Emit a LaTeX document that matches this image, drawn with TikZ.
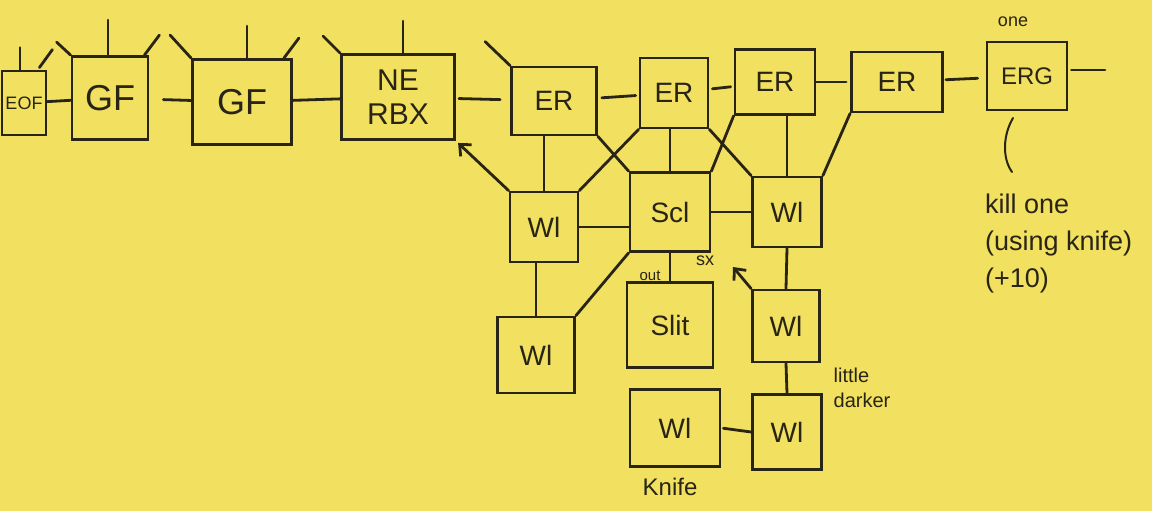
\documentclass[tikz,border=0pt]{standalone}
\usepackage{fontspec}
\setmainfont{Liberation Sans}
\usetikzlibrary{arrows.meta,calc}
\definecolor{paper}{RGB}{242,224,96}
\definecolor{ink}{RGB}{40,36,22}
\begin{document}
\begin{tikzpicture}[x=1pt,y=-1pt,
  box/.style={draw=ink,line width=2.8pt,rectangle,inner sep=0pt,text=ink,
    font=\fontsize{28}{32}\selectfont},
  wire/.style={draw=ink,line width=2.8pt,line cap=round},
  arr/.style={wire,-{Straight Barb[length=9pt,width=16pt,line width=2.8pt]}},
  note/.style={text=ink,inner sep=0pt}]
\useasboundingbox (0,0) rectangle (1152,511);
\fill[paper] (0,0) rectangle (1152,511);

% top chain
\node[box,minimum width=44pt,minimum height=64pt,font=\fontsize{18}{20}\selectfont] (eof) at (24,103) {EOF};
\node[box,minimum width=76pt,minimum height=83pt,font=\fontsize{36}{40}\selectfont] (gf1) at (110,98) {GF};
\node[box,minimum width=99pt,minimum height=85pt,font=\fontsize{36}{40}\selectfont] (gf2) at (242,102) {GF};
\node[box,minimum width=113pt,minimum height=85pt,align=center,font=\fontsize{30}{34}\selectfont] (nerbx) at (398,97) {NE\\RBX};
\node[box,minimum width=85pt,minimum height=68pt] (er1) at (554,101) {ER};
\node[box,minimum width=68pt,minimum height=70pt] (er2) at (674,93) {ER};
\node[box,minimum width=80pt,minimum height=65pt] (er3) at (775,82) {ER};
\node[box,minimum width=91pt,minimum height=60pt] (er4) at (897,82) {ER};
\node[box,minimum width=80pt,minimum height=68pt,font=\fontsize{24}{28}\selectfont] (erg) at (1027,76) {ERG};

% lower nodes
\node[box,minimum width=68pt,minimum height=70pt] (wl1) at (544,227) {Wl};
\node[box,minimum width=80pt,minimum height=79pt] (scl) at (670,212) {Scl};
\node[box,minimum width=69pt,minimum height=70pt] (wl2) at (787,212) {Wl};
\node[box,minimum width=77pt,minimum height=76pt] (wl3) at (536,355) {Wl};
\node[box,minimum width=86pt,minimum height=85pt] (slit) at (670,325) {Slit};
\node[box,minimum width=67pt,minimum height=72pt] (wl4) at (786,326) {Wl};
\node[box,minimum width=69pt,minimum height=75pt] (wl5) at (787,432) {Wl};
\node[box,minimum width=90pt,minimum height=77pt] (wl6) at (675,428) {Wl};

% free ends
\coordinate (ergout) at (1105,70);
\coordinate (sxpt) at (733,267);
\coordinate (pa) at (1013,118);
\coordinate (pb) at (1012,172);

% top stubs
\draw[wire] ($(eof.north)+(-4,0)$) -- ++(0,-22);
\draw[wire] ($(eof.north east)+(-8,-2)$) -- ++(13,-18);
\draw[wire] (gf1.north west) -- ++(-14,-13);
\draw[wire] ($(gf1.north)+(-2,0)$) -- ++(0,-35);
\draw[wire] ($(gf1.north east)+(-5,0)$) -- ++(15,-20);
\draw[wire] (gf2.north west) -- ++(-21,-23);
\draw[wire] ($(gf2.north)+(5,0)$) -- ++(0,-32);
\draw[wire] ($(gf2.north east)+(-9,0)$) -- ++(15,-20);
\draw[wire] (nerbx.north west) -- ++(-17,-17);
\draw[wire] ($(nerbx.north)+(5,0)$) -- ++(0,-32);
\draw[wire] (er1.north west) -- ++(-25,-24);

% chain connectors
\draw[wire] (eof) -- (gf1);
\draw[wire,shorten <=14pt] (gf1) -- (gf2);
\draw[wire] (gf2) -- (nerbx);
\draw[wire,shorten >=10pt,shorten <=3pt] (nerbx) -- (er1);
\draw[wire,shorten <=4pt,shorten >=3pt] (er1) -- (er2);
\draw[wire,shorten <=3pt,shorten >=3pt] (er2) -- (er3);
\draw[wire,shorten >=4pt] (er3) -- (er4);
\draw[wire,shorten <=2pt,shorten >=8pt] (er4) -- (erg);
\draw[wire,shorten <=3pt] (erg.east |- ergout) -- (ergout);

% cross connections
\draw[wire] (wl1.north) -- (wl1.north |- er1.south);
\draw[wire] (er1.south east) -- (scl.north west);
\draw[wire] (er2.south west) -- (wl1.north east);
\draw[wire] (scl.north) -- (scl.north |- er2.south);
\draw[wire] (er2.south east) -- (wl2.north west);
\draw[wire] (er3.south west) -- (scl.north east);
\draw[wire] (wl2.north) -- (wl2.north |- er3.south);
\draw[wire] (er4.south west) -- (wl2.north east);
\draw[wire] (wl1.east) -- (wl1.east -| scl.west);
\draw[wire] (scl.east) -- (wl2.west);
\draw[wire] (wl3.north) -- (wl3.north |- wl1.south);
\draw[wire] (scl.south west) -- (wl3.north east);
\draw[wire] (slit.north) -- (slit.north |- scl.south);
\draw[wire] (wl2.south) -- (wl4.north);
\draw[wire] (wl4.south) -- (wl5.north);
\draw[wire,shorten <=2pt] (wl6.east) -- (wl5.west);

% arrows
\draw[arr,shorten >=3pt] (wl1.north west) -- (nerbx.south east);
\draw[arr] (wl4.north west) -- (sxpt);

% bracket under ERG
\draw[wire,line width=2pt] (pa) .. controls (1003,135) and (1002,158) .. (pb);

% notes
\node[note,font=\fontsize{18}{20}\selectfont] (one) at (1013,22) {one};
\node[note,anchor=north west,align=left,font=\fontsize{27}{37}\selectfont] (kill) at (985,194) {kill one\\(using knife)\\(+10)};
\node[note,align=left,font=\fontsize{20}{25}\selectfont] (dark) at (862,388) {little\\darker};
\node[note,font=\fontsize{24}{26}\selectfont] (knife) at (670,487) {Knife};
\node[note,font=\fontsize{15}{17}\selectfont] (out) at (650,276) {out};
\node[note,font=\fontsize{18}{20}\selectfont] (sx) at (705,261) {sx};
\end{tikzpicture}
\end{document}
